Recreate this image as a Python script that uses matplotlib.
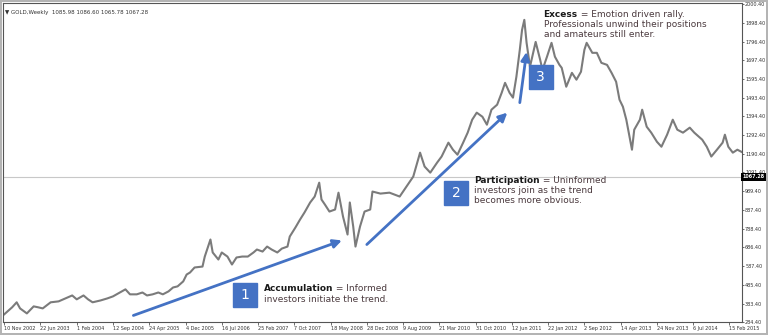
#!/usr/bin/env python3
"""Weekly gold chart with the three phases of a bubble annotated."""

import matplotlib

matplotlib.use("Agg")
import matplotlib.pyplot as plt  # noqa: E402

# Weekly closes: weeks since 10 Nov 2002 -> price.
WEEKS = [
    0, 3, 7, 11, 14, 20, 26, 30, 34, 41, 48, 54, 60, 64, 70, 74, 78, 85, 91, 96,
    102, 107, 111, 117, 122, 126, 131, 136, 140, 145, 149, 153, 158, 161, 164, 168,
    175, 177, 182, 184, 189, 192, 197, 201, 205, 210, 215, 220, 223, 228, 232, 236,
    241, 245, 250, 252, 257, 261, 265, 270, 274, 278, 280, 283, 287, 292, 295, 299,
    303, 305, 308, 310, 314, 318, 323, 325, 332, 340, 349, 355, 361, 367, 371, 376,
    382, 386, 392, 396, 400, 405, 409, 413, 417, 422, 426, 430, 435, 439, 442, 446,
    449, 452, 455, 457, 459, 461, 464, 466, 469, 473, 475, 479, 483, 486, 490, 492,
    496, 501, 505, 509, 512, 514, 519, 523, 527, 532, 536, 540, 543, 546, 549, 554,
    556, 561, 563, 567, 571, 576, 580, 585, 590, 594, 599, 605, 609, 616, 620, 624,
    629, 634, 636, 639, 643, 647, 652,
]
PRICES = [
    325, 341, 363, 390, 357, 330, 368, 363, 357, 390, 395, 411, 427, 406, 427, 406,
    390, 400, 411, 422, 443, 460, 433, 433, 443, 427, 433, 443, 433, 449, 470, 476,
    503, 540, 551, 578, 583, 637, 729, 659, 621, 659, 637, 594, 632, 637, 637, 659,
    675, 664, 691, 675, 659, 680, 691, 745, 794, 836, 875, 929, 961, 1036, 945, 918,
    880, 891, 982, 853, 756, 929, 799, 691, 799, 880, 891, 988, 977, 982, 961, 1015,
    1069, 1198, 1123, 1090, 1144, 1177, 1252, 1214, 1187, 1252, 1306, 1376, 1414,
    1392, 1349, 1430, 1457, 1521, 1575, 1521, 1495, 1608, 1753, 1861, 1915, 1791,
    1662, 1716, 1796, 1699, 1645, 1716, 1791, 1716, 1672, 1656, 1554, 1629, 1592,
    1635, 1753, 1791, 1737, 1737, 1683, 1672, 1629, 1581, 1484, 1446, 1376, 1214,
    1322, 1376, 1430, 1338, 1306, 1257, 1230, 1295, 1376, 1322, 1306, 1333, 1306,
    1268, 1230, 1177, 1214, 1252, 1295, 1230, 1198, 1214, 1198,
]
LAST_PRICE = 1067.28

Y_TICKS = [
    2000.40, 1898.40, 1796.40, 1697.40, 1595.40, 1493.40, 1394.40, 1292.40, 1190.40,
    1091.40, 989.40, 887.40, 788.40, 686.40, 587.40, 485.40, 383.40, 284.40,
]
X_TICK_LABELS = [
    "10 Nov 2002", "22 Jun 2003", "1 Feb 2004", "12 Sep 2004", "24 Apr 2005",
    "4 Dec 2005", "16 Jul 2006", "25 Feb 2007", "7 Oct 2007", "18 May 2008",
    "28 Dec 2008", "9 Aug 2009", "21 Mar 2010", "31 Oct 2010", "12 Jun 2011",
    "22 Jan 2012", "2 Sep 2012", "14 Apr 2013", "24 Nov 2013", "6 Jul 2014",
    "15 Feb 2015",
]
X_TICK_STEP = 32  # weeks between date labels

PHASES = [
    ("1", "Accumulation", " = Informed", "investors initiate the trend."),
    ("2", "Participation", " = Uninformed", "investors join as the trend\nbecomes more obvious."),
    ("3", "Excess", " = Emotion driven rally.",
     "Professionals unwind their positions\nand amateurs still enter."),
]

BLUE = "#4472c4"
TEXT = "#4b3a3e"
TICK_FS = 3.5

fig = plt.figure(figsize=(7.68, 3.35), dpi=100)
fig.patch.set_facecolor("white")
fig.patch.set_edgecolor("#b4b4b4")
fig.patch.set_linewidth(1.5)
ax = fig.add_axes([0.004, 0.039, 0.962, 0.952])

ax.axhline(LAST_PRICE, color="#c8c8c8", lw=0.8, zorder=1)
ax.plot(WEEKS, PRICES, color="#7b7b7b", lw=1.5, zorder=2)

ax.set_xlim(-1, 651)
ax.set_ylim(284, 2006)

# right-hand price axis
ax.yaxis.tick_right()
ax.set_yticks(Y_TICKS)
ax.set_yticklabels([f"{v:.2f}" for v in Y_TICKS])
ax.tick_params(axis="y", labelsize=TICK_FS, length=1.5, width=0.5, pad=0.8, colors="#333333")
ax.text(1.001, LAST_PRICE, f"{LAST_PRICE:.2f}", transform=ax.get_yaxis_transform(),
        fontsize=TICK_FS, color="white", fontweight="bold", va="center", ha="left",
        bbox=dict(boxstyle="square,pad=0.25", fc="black", ec="none"), clip_on=False)

# dates under the bars, left aligned to their tick
xt = [i * X_TICK_STEP for i in range(len(X_TICK_LABELS))]
ax.set_xticks(xt)
ax.set_xticklabels(X_TICK_LABELS, ha="left")
ax.tick_params(axis="x", labelsize=TICK_FS, length=2, width=0.5, pad=1, colors="#333333")

for side in ax.spines.values():
    side.set_color("#555555")
    side.set_linewidth(0.8)

fig.text(0.006, 0.962, "\u25bc GOLD,Weekly  1085.98 1086.60 1065.78 1067.28",
         fontsize=4.0, color="#333333", va="center")

# trend arrows
arrows = [((114, 319), (298, 724)), ((320, 702), (444, 1414)), ((455, 1468), (461, 1742))]
for (x0, y0), (x1, y1) in arrows:
    ax.annotate("", xy=(x1, y1), xytext=(x0, y0),
                arrowprops=dict(arrowstyle="-|>,head_length=0.5,head_width=0.25",
                                color=BLUE, lw=2, shrinkA=0, shrinkB=0), zorder=4)

# numbered boxes and captions
boxes = [(212.5, 427), (398.6, 982), (473.5, 1608)]
captions = [(229, 487), (414.5, 1074), (476, 1969)]
for (num, bold, rest, more), (bx, by), (cx, cy) in zip(PHASES, boxes, captions):
    ax.plot(bx, by, marker="s", ms=17, color=BLUE, zorder=5)
    ax.text(bx, by, num, color="white", fontsize=10, ha="center", va="center", zorder=6)
    t = ax.text(cx, cy, bold, fontsize=6.5, fontweight="bold", color="#1a1a1a",
                ha="left", va="top", zorder=6)
    ax.annotate(rest, xy=(1, 0), xycoords=t, fontsize=6.5, color=TEXT,
                ha="left", va="bottom", zorder=6)
    ax.annotate(more, xy=(0, 0), xycoords=t, xytext=(0, -1),
                textcoords="offset points", fontsize=6.5, color=TEXT,
                ha="left", va="top", linespacing=1.15, zorder=6)

fig.savefig("out.png", dpi=100, facecolor="white")
